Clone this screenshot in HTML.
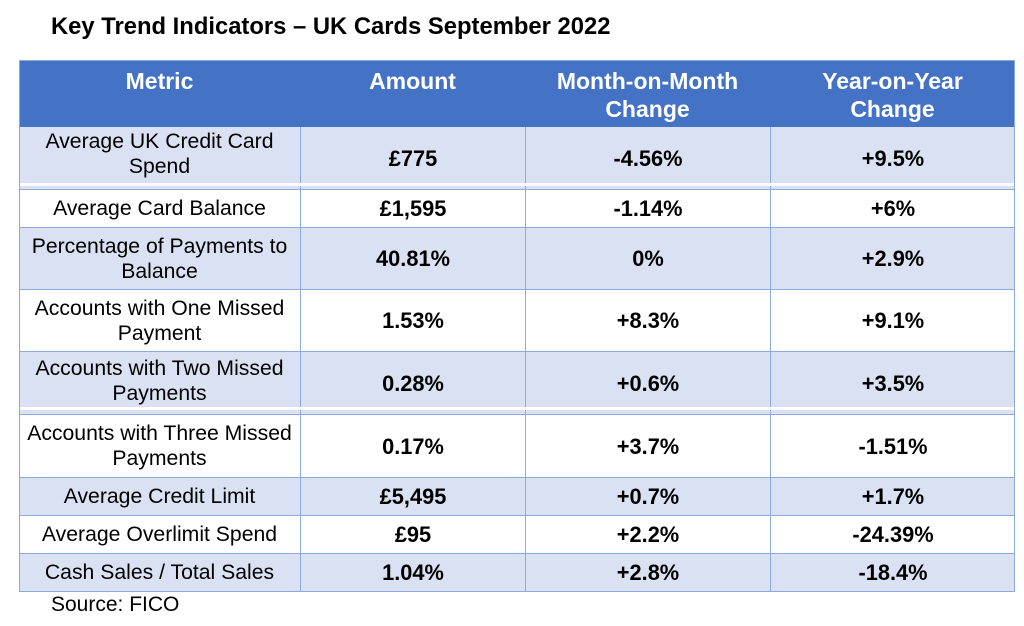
<!DOCTYPE html>
<html><head><style>
body{margin:0;width:1024px;height:626px;background:#fff;font-family:"Liberation Sans",Arial,sans-serif;position:relative;overflow:hidden}
.t{position:absolute;left:51px;top:13px;font-size:23.8px;font-weight:bold;color:#000}
.r{position:absolute;left:19px;width:996px;border-bottom:1px solid #8EA9DB;box-sizing:border-box}
.c{position:absolute;top:0;height:100%;display:flex;align-items:center;justify-content:center;text-align:center;font-size:21.2px;line-height:25px;color:#000;box-sizing:border-box}
.c1{left:0;width:281px}
.c2{left:281px;width:225px;font-weight:bold;border-left:1px solid #8EA9DB;font-size:21.8px}
.c3{left:506px;width:245px;font-weight:bold;border-left:1px solid #8EA9DB;font-size:21.8px}
.c4{left:751px;width:245px;font-weight:bold;border-left:1px solid #8EA9DB;font-size:21.8px}
.b{background:#D9E1F2}
.h{background:#4472C4;border-bottom:none}
.h .c{color:#fff;font-weight:bold;font-size:23px;line-height:28px;align-items:flex-start;padding-top:7px;border-left:none}
.s{position:absolute;left:51px;top:593px;font-size:21px}
.frame{position:absolute;left:19px;top:60px;width:996px;height:532px;border:1px solid #8EA9DB;box-sizing:border-box;pointer-events:none}
.w{position:absolute;left:19px;width:996px;height:3px;background:#fff}
</style></head><body>
<div class="t">Key Trend Indicators – UK Cards September 2022</div>
<div class="r h" style="top:60px;height:67px"><div class="c c1">Metric</div><div class="c c2">Amount</div><div class="c c3">Month-on-Month<br>Change</div><div class="c c4">Year-on-Year<br>Change</div></div>
<div class="r b" style="top:127px;height:63px"><div class="c c1" style="padding-bottom:8px">Average UK Credit Card<br>Spend</div><div class="c c2">£775</div><div class="c c3">-4.56%</div><div class="c c4">+9.5%</div></div>
<div class="w" style="top:183px"></div>
<div class="r" style="top:190px;height:38px"><div class="c c1">Average Card Balance</div><div class="c c2">£1,595</div><div class="c c3">-1.14%</div><div class="c c4">+6%</div></div>
<div class="r b" style="top:228px;height:62px"><div class="c c1">Percentage of Payments to<br>Balance</div><div class="c c2">40.81%</div><div class="c c3">0%</div><div class="c c4">+2.9%</div></div>
<div class="r" style="top:290px;height:62px"><div class="c c1">Accounts with One Missed<br>Payment</div><div class="c c2">1.53%</div><div class="c c3">+8.3%</div><div class="c c4">+9.1%</div></div>
<div class="r b" style="top:352px;height:63px"><div class="c c1" style="padding-bottom:4px">Accounts with Two Missed<br>Payments</div><div class="c c2">0.28%</div><div class="c c3">+0.6%</div><div class="c c4">+3.5%</div></div>
<div class="w" style="top:407px"></div>
<div class="r" style="top:415px;height:63px"><div class="c c1">Accounts with Three Missed<br>Payments</div><div class="c c2">0.17%</div><div class="c c3">+3.7%</div><div class="c c4">-1.51%</div></div>
<div class="r b" style="top:478px;height:38px"><div class="c c1">Average Credit Limit</div><div class="c c2">£5,495</div><div class="c c3">+0.7%</div><div class="c c4">+1.7%</div></div>
<div class="r" style="top:516px;height:38px"><div class="c c1">Average Overlimit Spend</div><div class="c c2">£95</div><div class="c c3">+2.2%</div><div class="c c4">-24.39%</div></div>
<div class="r b" style="top:554px;height:38px"><div class="c c1">Cash Sales / Total Sales</div><div class="c c2">1.04%</div><div class="c c3">+2.8%</div><div class="c c4">-18.4%</div></div>
<div class="frame"></div>
<div class="s">Source: FICO</div>
</body></html>
